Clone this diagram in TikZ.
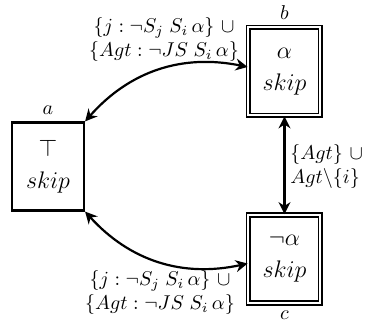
\documentclass[tikz,border=0pt]{standalone}
\usetikzlibrary{arrows.meta}
\begin{document}
\begin{tikzpicture}[x=0.5pt,y=-0.5pt,
  state/.style={draw, line width=1.1pt, minimum width=36pt, minimum height=44pt,
    inner sep=0pt, align=center, font=\large},
  accept/.style={state, double, double distance=1pt, line width=0.9pt},
  conn/.style={line width=1.1pt, {Stealth[length=6pt,width=6pt]}-{Stealth[length=6pt,width=6pt]}},
  lab/.style={font=\normalsize, align=center, inner sep=0pt},
  tag/.style={inner sep=3.33pt}]
\useasboundingbox (0,0) rectangle (372,331);
\node[state]  (a) at (48,166.5)  {$\top$\\[2pt]$skip$};
\node[accept] (b) at (284.5,71.5) {$\alpha$\\[2pt]$skip$};
\node[accept] (c) at (284.5,259)  {$\neg\alpha$\\[2pt]$skip$};
\node[tag, anchor=south] (ta) at (a.north) {$a$};
\node[tag, anchor=south] (tb) at (b.north) {$b$};
\node[tag, anchor=north] (tc) at (c.south) {$c$};
\draw[conn] (a.north east) to[bend left=30] (b.173);
\draw[conn] (a.south east) to[bend right=30] (c.187);
\draw[conn] (b.south) -- (c.north);
\node[lab] (l1) at (164,40) {$\{j:\neg S_j\;S_i\,\alpha\}\ \cup$\\$\{Agt:\neg JS\;S_i\,\alpha\}$};
\node[lab, align=left, anchor=west] (l2) at (290,167) {$\{Agt\}\ \cup$\\$Agt\backslash\{i\}$};
\node[lab] (l3) at (160,293) {$\{j:\neg S_j\;S_i\,\alpha\}\ \cup$\\$\{Agt:\neg JS\;S_i\,\alpha\}$};
\end{tikzpicture}
\end{document}
